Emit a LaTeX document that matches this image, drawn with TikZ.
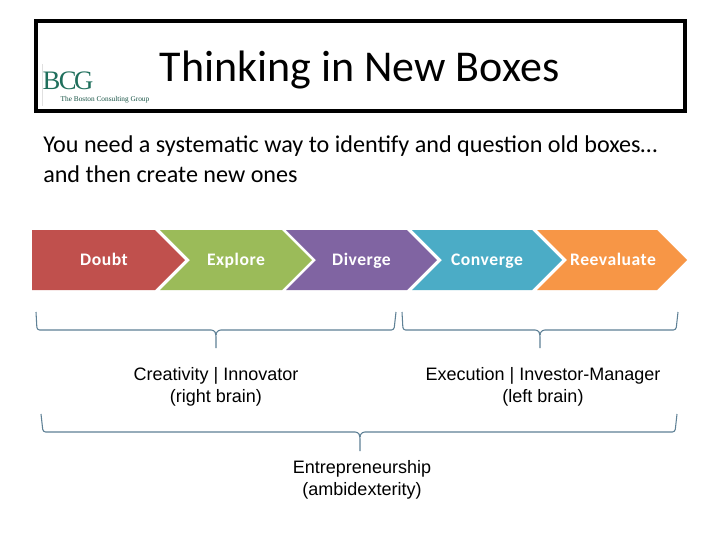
\documentclass[tikz,border=0pt]{standalone}
\usepackage{fontspec}
\setmainfont{Carlito}
\newfontfamily\arialf{Liberation Sans}
\newfontfamily\seriff{Liberation Serif}
\newfontfamily\chevf[LetterSpace=3]{Carlito Bold}
\definecolor{cA}{HTML}{C0504D}
\definecolor{cB}{HTML}{9BBB59}
\definecolor{cC}{HTML}{8064A2}
\definecolor{cD}{HTML}{4BACC6}
\definecolor{cE}{HTML}{F79646}
\definecolor{brc}{HTML}{5F8196}
\definecolor{bcg}{HTML}{1F6F5C}
\tikzset{
  px/.style={x=0.75pt,y=-0.75pt},
  chevlabel/.style={text=white,font=\chevf\fontsize{13.2}{14}\selectfont,inner sep=0pt,anchor=base},
  brlabel/.style={font=\arialf\fontsize{13.5}{16.5}\selectfont,align=center,inner sep=0pt,anchor=center,text=black},
  bracepath/.style={draw=brc,line width=0.8pt,rounded corners=2pt},
}
\begin{document}
\begin{tikzpicture}[px]
\useasboundingbox (0,0) rectangle (720,540);
\fill[white] (0,0) rectangle (720,540);
\draw[line width=2.3pt] (36,21) rectangle (685,111);
% logo
\draw[black!12,line width=0.3pt] (42,64) -- (42,106);
\node[inner sep=0pt,anchor=center,text=bcg] (logo) at (68,81) {\seriff\fontsize{20}{20}\selectfont B\kern-1.2pt C\kern-2pt G};
\node[inner sep=0pt,anchor=center,text=bcg!75!black] (logotext) at (105,100) {\seriff\fontsize{5.5}{6}\selectfont The Boston Consulting Group};
\node[inner sep=0pt,anchor=center] (title) at (359.5,70) {\fontsize{33}{38}\selectfont Thinking in New Boxes};
\node[inner sep=0pt,anchor=base west,align=left] (l1) at (43,152) {\fontsize{18.1}{22}\selectfont You need a systematic way to identify and question old boxes…};
\node[inner sep=0pt,anchor=base west,align=left] (l2) at (43,182) {\fontsize{18.1}{22}\selectfont and then create new ones};
% chevrons
\fill[cA] (32,230) -- (155,230) -- (185,260) -- (155,290) -- (32,290) -- cycle;
\fill[cB] (160,230) -- (282,230) -- (312,260) -- (282,290) -- (160,290) -- (190,260) -- cycle;
\fill[cC] (286,230) -- (407,230) -- (437,260) -- (407,290) -- (286,290) -- (316,260) -- cycle;
\fill[cD] (412,230) -- (532,230) -- (562,260) -- (532,290) -- (412,290) -- (442,260) -- cycle;
\fill[cE] (537,230) -- (657,230) -- (687,260) -- (657,290) -- (537,290) -- (567,260) -- cycle;
\node[chevlabel] (d) at (104,265) {Doubt};
\node[chevlabel] (e) at (236,265) {Explore};
\node[chevlabel] (v) at (361.5,265) {Diverge};
\node[chevlabel] (c) at (487,265) {Converge};
\node[chevlabel] (r) at (613,265) {Reevaluate};
% braces
\draw[bracepath] (36,312) -- (37,330) -- (214,330) -- (216,334) -- (216,348);
\draw[bracepath] (216,334) -- (218,330) -- (394,330) -- (396,312);
\draw[bracepath] (402,312) -- (403,330) -- (538,330) -- (540,334) -- (540,348);
\draw[bracepath] (540,334) -- (542,330) -- (676,330) -- (678,312);
\draw[bracepath] (41,414) -- (43,432) -- (358,432) -- (360,436) -- (360,451);
\draw[bracepath] (360,436) -- (362,432) -- (675,432) -- (677,414);
% labels
\node[brlabel] (b1) at (216,387) {Creativity | Innovator\\(right brain)};
\node[brlabel] (b2) at (543,387) {Execution | Investor-Manager\\(left brain)};
\node[brlabel] (b3) at (362,480) {Entrepreneurship\\(ambidexterity)};
\end{tikzpicture}
\end{document}
